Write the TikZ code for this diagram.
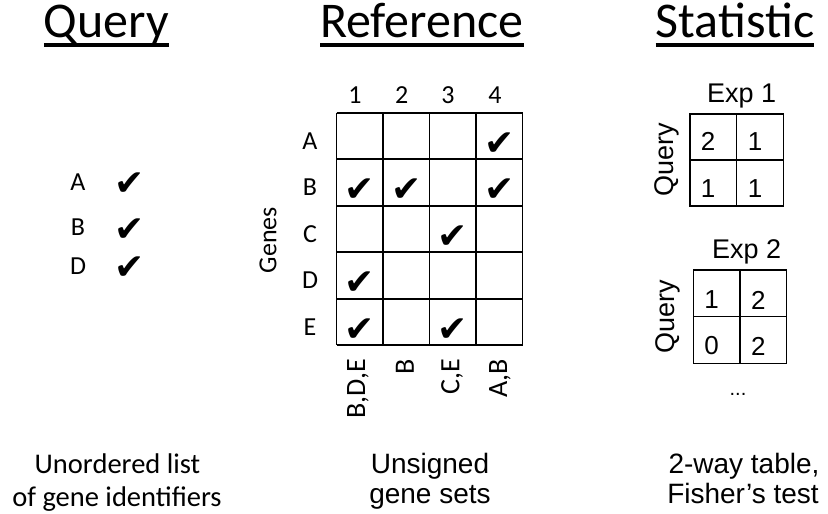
\documentclass[tikz,border=0pt]{standalone}
\usepackage{fontspec}
\setmainfont{Carlito}
\newfontfamily\arialf{Liberation Sans}
\newfontfamily\symf{DejaVu Sans}
\tikzset{
 cal/.style={inner sep=0pt, font=\fontsize{26}{30}\selectfont},
 calb/.style={inner sep=0pt, font=\fontsize{28}{32}\selectfont},
 ttl/.style={inner sep=0pt, anchor=base, font=\fontsize{50}{60}\selectfont},
 ul/.style={line width=3.5pt},
 chk/.style={inner sep=0pt, anchor=base, font=\symf\fontsize{36}{40}\selectfont},
 ari/.style={inner sep=0pt, font=\arialf\fontsize{26}{30}\selectfont},
 arilab/.style={inner sep=0pt, font=\arialf\fontsize{27}{30}\selectfont},
 desc/.style={inner sep=0pt, anchor=base, font=\fontsize{28.5}{34}\selectfont},
 descA/.style={inner sep=0pt, anchor=base, font=\arialf\fontsize{28}{34}\selectfont},
 gridline/.style={line width=1.6pt},
 tline/.style={line width=1.5pt},
}
\begin{document}
\begin{tikzpicture}[x=1pt,y=-1pt]
\useasboundingbox (0,0) rectangle (828,514);

% titles
\node[ttl] (tq) at (106.5,37) {Query};
\node[ttl] (tr) at (422,37) {Reference};
\node[ttl] (ts) at (735,37) {Statistic};
\foreach \t in {tq,tr,ts}
  \draw[ul] ([yshift=-8pt]\t.base west) -- ([yshift=-8pt]\t.base east);

% query list
\node[cal, anchor=base] (qa) at (78,190) {A};
\node[cal, anchor=base] (qb) at (78,235) {B};
\node[cal, anchor=base] (qd) at (78,274) {D};
\node[chk] (qka) at (130,195) {✔};
\node[chk] (qkb) at (130,241) {✔};
\node[chk] (qkd) at (130,279) {✔};

% reference grid
\foreach \i in {0,...,4}
  \draw[gridline] ({336.5+46.5*\i},112.7) -- ({336.5+46.5*\i},345.2);
\foreach \j in {0,...,5}
  \draw[gridline] (336.5,{112.7+46.5*\j}) -- (522.5,{112.7+46.5*\j});
\node[cal, anchor=base] (c1) at (355,103) {1};
\node[cal, anchor=base] (c2) at (401.7,103) {2};
\node[cal, anchor=base] (c3) at (448,103) {3};
\node[cal, anchor=base] (c4) at (495,103) {4};
\node[cal, anchor=base] (rA) at (310,149) {A};
\node[cal, anchor=base] (rB) at (310,195.5) {B};
\node[cal, anchor=base] (rC) at (310,242) {C};
\node[cal, anchor=base] (rD) at (310,288.5) {D};
\node[cal, anchor=base] (rE) at (310,335) {E};
\node[cal, rotate=90] (genes) at (268,240) {Genes};
\foreach \r/\c/\n in {1/4/A4,2/1/B1,2/2/B2,2/4/B4,3/3/C3,4/1/D1,5/1/E1,5/3/E3}
  \node[chk] (k\n) at ({359.75+46.5*(\c-1)},{155+46.5*(\r-1)}) {✔};
\node[calb, rotate=90, anchor=east] (s1) at (358,359) {B,D,E};
\node[calb, rotate=90, anchor=east] (s2) at (405,359) {B};
\node[calb, rotate=90, anchor=east] (s3) at (452,359) {C,E};
\node[calb, rotate=90, anchor=east] (s4) at (500,359) {A,B};

% statistic tables
\draw[tline] (690,114) rectangle (783.3,206);
\draw[tline] (736.7,114) -- (736.7,206);
\draw[tline] (690,160) -- (783.3,160);
\node[arilab, anchor=base] (e1) at (741.7,102) {Exp 1};
\node[arilab, rotate=90] (q1) at (667,160) {Query};
\node[ari] (n11) at (708,141.7) {2};
\node[ari] (n12) at (755,141.7) {1};
\node[ari] (n13) at (708,188.3) {1};
\node[ari] (n14) at (755,188.3) {1};

\draw[tline] (693.3,270) rectangle (786.7,363.3);
\draw[tline] (740,270) -- (740,363.3);
\draw[tline] (693.3,316.7) -- (786.7,316.7);
\node[arilab, anchor=base] (e2) at (746.7,258) {Exp 2};
\node[arilab, rotate=90] (q2) at (668,317) {Query};
\node[ari] (n21) at (711.7,300) {1};
\node[ari] (n22) at (758.3,300) {2};
\node[ari] (n23) at (711.7,346) {0};
\node[ari] (n24) at (758.3,346) {2};
\node[ari, anchor=base, font=\arialf\fontsize{20}{24}\selectfont] (dots) at (738,395) {...};

% bottom descriptions
\node[desc] (d1) at (117.5,473) {Unordered list};
\node[desc] (d2) at (117,506) {of gene identifiers};
\node[descA] (d3) at (430,473) {Unsigned};
\node[descA] (d4) at (430,503) {gene sets};
\node[descA] (d5) at (744,473) {2-way table,};
\node[descA] (d6) at (743,503) {Fisher’s test};
\end{tikzpicture}
\end{document}
